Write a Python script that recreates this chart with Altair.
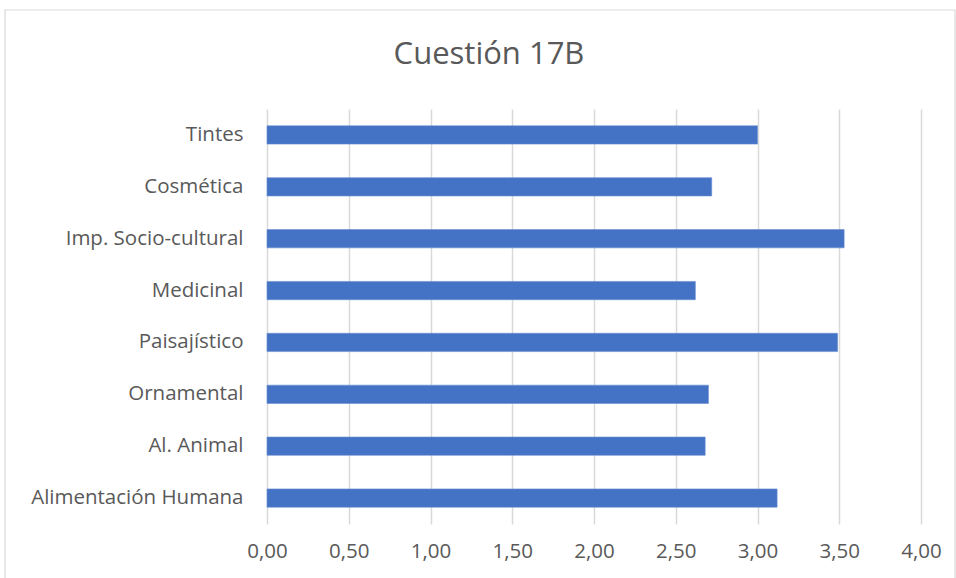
import altair as alt
import pandas as pd

# Survey averages per use category (question 17B)
categories = [
    "Tintes",
    "Cosmética",
    "Imp. Socio-cultural",
    "Medicinal",
    "Paisajístico",
    "Ornamental",
    "Al. Animal",
    "Alimentación Humana",
]
scores = [3.00, 2.72, 3.53, 2.62, 3.49, 2.70, 2.68, 3.12]
title_text = "Cuestión 17B"

df = pd.DataFrame({"categoria": categories, "valor": scores})

FONT = "Open Sans"
TEXT = "#595959"
GRID = "#d9d9d9"

bars = alt.Chart(df).mark_bar(color="#4472c4", stroke="#6a8fd3", strokeWidth=0.6).encode(
    x=alt.X(
        "valor:Q",
        scale=alt.Scale(domain=[0, 4], nice=False),
        axis=alt.Axis(
            title=None,
            values=[0, 0.5, 1, 1.5, 2, 2.5, 3, 3.5, 4],
            labelExpr="replace(format(datum.value, '.2f'), '.', ',')",
            grid=True,
            gridColor=GRID,
            gridWidth=1.5,
            domain=False,
            ticks=False,
            labelFlush=False,
            labelFont=FONT,
            labelFontSize=20.5,
            labelColor=TEXT,
            labelPadding=17,
        ),
    ),
    y=alt.Y(
        "categoria:N",
        sort=categories,
        scale=alt.Scale(paddingInner=0.647, paddingOuter=0.3235),
        axis=alt.Axis(
            title=None,
            domain=False,
            ticks=False,
            grid=False,
            labelLimit=400,
            labelFont=FONT,
            labelFontSize=20.5,
            labelColor=TEXT,
            labelPadding=24,
        ),
    ),
)

# Outer frame around the whole chart
frame = alt.Chart(pd.DataFrame({"k": [0]})).mark_rect(
    fill=None, stroke=GRID, strokeWidth=1.2
).encode(
    x=alt.value(-262), x2=alt.value(688), y=alt.value(-99), y2=alt.value(480)
)

# Chart heading, centred over the whole frame
heading = alt.Chart(pd.DataFrame({"t": [title_text]})).mark_text(
    font=FONT, fontSize=31, color=TEXT, align="center", baseline="middle"
).encode(
    text="t:N", x=alt.value(222), y=alt.value(-54)
)

chart = (
    alt.layer(frame, bars, heading)
    .properties(
        width=654,
        height=415,
        padding={"left": 267, "top": 109, "right": 35, "bottom": 54},
        autosize=alt.AutoSizeParams(type="none"),
    )
    .configure(background="white", view=alt.ViewConfig(stroke=None))
)

chart.save("out.html", embed_options={"renderer": "svg", "actions": False})
